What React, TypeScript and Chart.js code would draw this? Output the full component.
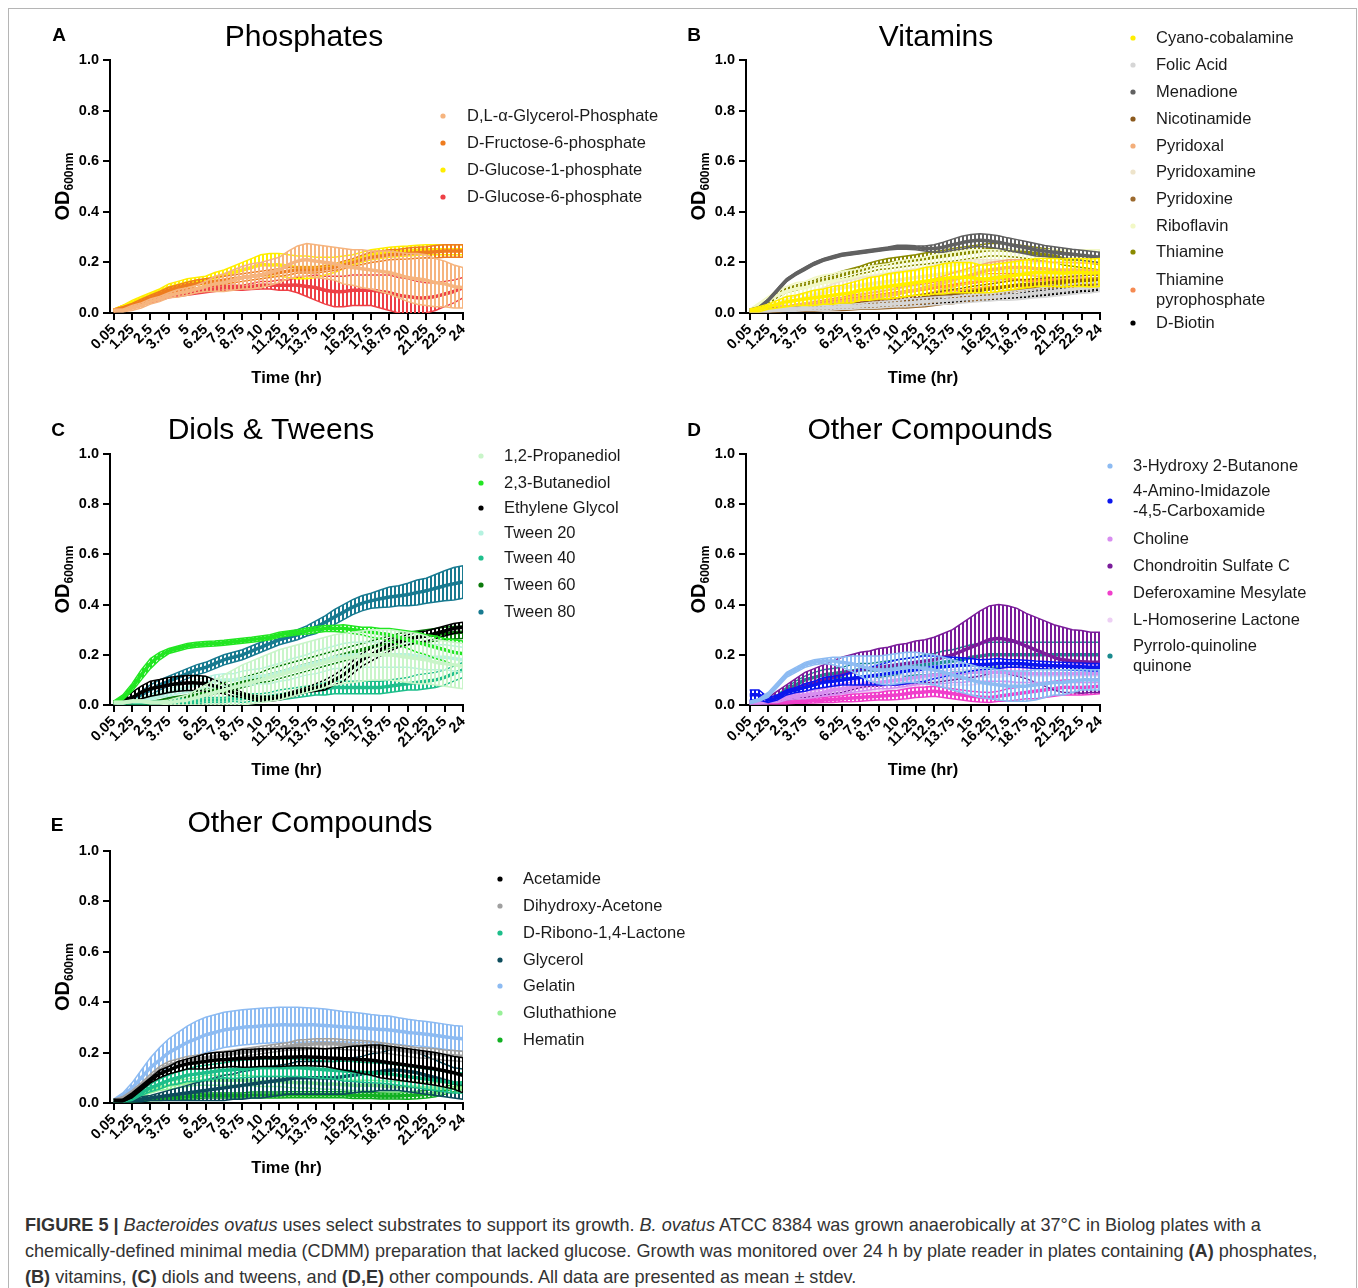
import React, { useEffect, useRef } from 'react';
import { Chart, registerables } from 'chart.js';

Chart.register(...registerables);

const FONT = "'Liberation Sans', Arial, Helvetica, sans-serif";
Chart.defaults.font.family = FONT;
Chart.defaults.color = '#000';

// ---------- shared axis data ----------
const TIME_LABELS = ['0.05', '1.25', '2.5', '3.75', '5', '6.25', '7.5', '8.75', '10', '11.25', '12.5', '13.75', '15', '16.25', '17.5', '18.75', '20', '21.25', '22.5', '24'];
const SAMPLES_PER_TICK = 2; // readings are taken every half tick interval
const Y_TITLE = 'OD';
const Y_TITLE_SUB = '600nm';
const X_TITLE = 'Time (hr)';

// ---------- Panel A: Phosphates ----------
const A_GLYCEROL_P = [0.01, 0.01, 0.02, 0.03, 0.045, 0.055, 0.07, 0.078, 0.085, 0.095, 0.105, 0.115, 0.12,
  0.13, 0.14, 0.145, 0.15, 0.16, 0.17, 0.19, 0.205, 0.21, 0.205, 0.2, 0.195, 0.185,
  0.18, 0.175, 0.17, 0.165, 0.16, 0.15, 0.14, 0.135, 0.13, 0.12, 0.115, 0.105, 0.1];
const A_GLYCEROL_P_SD = [0.005, 0.005, 0.01, 0.01, 0.01, 0.01, 0.01, 0.015, 0.015, 0.015, 0.02, 0.03, 0.035,
  0.04, 0.045, 0.05, 0.05, 0.05, 0.05, 0.055, 0.06, 0.065, 0.065, 0.065, 0.065, 0.07,
  0.07, 0.075, 0.075, 0.08, 0.085, 0.09, 0.095, 0.1, 0.1, 0.095, 0.09, 0.085, 0.08];
const A_FRUCTOSE_6P = [0.01, 0.02, 0.03, 0.045, 0.06, 0.075, 0.09, 0.1, 0.11, 0.115, 0.12, 0.125, 0.13,
  0.135, 0.14, 0.145, 0.15, 0.155, 0.16, 0.165, 0.17, 0.17, 0.17, 0.175, 0.18, 0.19,
  0.2, 0.21, 0.22, 0.225, 0.23, 0.232, 0.235, 0.238, 0.24, 0.242, 0.245, 0.245, 0.245];
const A_FRUCTOSE_6P_SD = [0.005, 0.005, 0.008, 0.01, 0.01, 0.01, 0.012, 0.012, 0.012, 0.015, 0.015, 0.015, 0.015,
  0.015, 0.015, 0.015, 0.015, 0.015, 0.015, 0.015, 0.012, 0.012, 0.012, 0.012, 0.012, 0.015,
  0.015, 0.018, 0.02, 0.02, 0.02, 0.02, 0.022, 0.022, 0.022, 0.025, 0.025, 0.025, 0.025];
const A_GLUCOSE_1P = [0.01, 0.025, 0.04, 0.055, 0.07, 0.085, 0.1, 0.11, 0.12, 0.125, 0.13, 0.14, 0.15,
  0.16, 0.17, 0.18, 0.19, 0.19, 0.19, 0.185, 0.18, 0.18, 0.18, 0.185, 0.19, 0.2,
  0.21, 0.22, 0.23, 0.235, 0.24, 0.243, 0.245, 0.248, 0.25, 0.25, 0.25, 0.25, 0.25];
const A_GLUCOSE_1P_SD = [0.005, 0.005, 0.01, 0.01, 0.01, 0.01, 0.015, 0.015, 0.015, 0.015, 0.015, 0.02, 0.02,
  0.025, 0.03, 0.035, 0.04, 0.045, 0.045, 0.045, 0.045, 0.045, 0.04, 0.035, 0.03, 0.025,
  0.02, 0.02, 0.02, 0.02, 0.02, 0.02, 0.02, 0.02, 0.02, 0.02, 0.02, 0.02, 0.02];
const A_GLUCOSE_6P = [0.01, 0.02, 0.03, 0.04, 0.05, 0.06, 0.07, 0.075, 0.08, 0.085, 0.09, 0.095, 0.1,
  0.1, 0.1, 0.105, 0.11, 0.11, 0.11, 0.11, 0.11, 0.105, 0.1, 0.09, 0.085, 0.085,
  0.09, 0.09, 0.09, 0.085, 0.08, 0.07, 0.065, 0.06, 0.06, 0.065, 0.075, 0.085, 0.1];
const A_GLUCOSE_6P_SD = [0.005, 0.01, 0.01, 0.01, 0.01, 0.01, 0.01, 0.01, 0.01, 0.01, 0.01, 0.01, 0.01,
  0.01, 0.01, 0.012, 0.015, 0.015, 0.02, 0.02, 0.03, 0.04, 0.05, 0.055, 0.06, 0.06,
  0.06, 0.06, 0.06, 0.065, 0.07, 0.07, 0.07, 0.065, 0.06, 0.055, 0.05, 0.045, 0.04];

// ---------- Panel B: Vitamins ----------
const B_CYANO = [0.01, 0.015, 0.025, 0.035, 0.045, 0.05, 0.055, 0.06, 0.065, 0.07, 0.075, 0.08, 0.09,
  0.095, 0.1, 0.105, 0.11, 0.115, 0.12, 0.125, 0.13, 0.135, 0.14, 0.14, 0.14, 0.135,
  0.135, 0.14, 0.145, 0.15, 0.155, 0.16, 0.16, 0.16, 0.158, 0.16, 0.16, 0.158, 0.16];
const B_CYANO_SD = [0.005, 0.01, 0.01, 0.015, 0.02, 0.02, 0.025, 0.03, 0.03, 0.035, 0.035, 0.04, 0.04,
  0.045, 0.045, 0.05, 0.05, 0.05, 0.05, 0.055, 0.055, 0.06, 0.06, 0.06, 0.06, 0.055,
  0.055, 0.055, 0.055, 0.055, 0.055, 0.055, 0.055, 0.055, 0.055, 0.055, 0.055, 0.055, 0.055];
const B_FOLIC = [0.01, 0.01, 0.01, 0.012, 0.015, 0.015, 0.018, 0.02, 0.02, 0.022, 0.025, 0.025, 0.028,
  0.03, 0.032, 0.035, 0.037, 0.04, 0.042, 0.045, 0.048, 0.05, 0.052, 0.055, 0.057, 0.06,
  0.062, 0.065, 0.068, 0.07, 0.074, 0.078, 0.082, 0.086, 0.09, 0.094, 0.098, 0.1, 0.105];
const B_FOLIC_SD = [0.005, 0.005, 0.005, 0.005, 0.008, 0.008, 0.008, 0.01, 0.01, 0.01, 0.01, 0.01, 0.01,
  0.012, 0.012, 0.012, 0.012, 0.015, 0.015, 0.015, 0.015, 0.015, 0.015, 0.015, 0.015, 0.015,
  0.015, 0.015, 0.018, 0.018, 0.018, 0.018, 0.02, 0.02, 0.02, 0.02, 0.02, 0.02, 0.02];
const B_MENADIONE = [0.01, 0.02, 0.05, 0.09, 0.13, 0.155, 0.175, 0.195, 0.21, 0.22, 0.23, 0.235, 0.24,
  0.245, 0.25, 0.255, 0.26, 0.26, 0.258, 0.255, 0.255, 0.26, 0.27, 0.278, 0.285, 0.288,
  0.285, 0.28, 0.272, 0.265, 0.258, 0.25, 0.245, 0.24, 0.235, 0.232, 0.228, 0.224, 0.22];
const B_MENADIONE_SD = [0.005, 0.005, 0.005, 0.006, 0.006, 0.006, 0.006, 0.006, 0.006, 0.006, 0.006, 0.006, 0.006,
  0.006, 0.006, 0.006, 0.008, 0.008, 0.008, 0.01, 0.015, 0.02, 0.022, 0.025, 0.025, 0.025,
  0.025, 0.025, 0.025, 0.025, 0.025, 0.025, 0.022, 0.022, 0.022, 0.02, 0.02, 0.02, 0.02];
const B_NICOTINAMIDE = [0.01, 0.01, 0.012, 0.015, 0.015, 0.018, 0.02, 0.02, 0.022, 0.025, 0.027, 0.03, 0.032,
  0.035, 0.04, 0.042, 0.045, 0.05, 0.055, 0.06, 0.065, 0.07, 0.075, 0.08, 0.085, 0.09,
  0.095, 0.1, 0.105, 0.11, 0.112, 0.115, 0.118, 0.12, 0.122, 0.125, 0.127, 0.13, 0.13];
const B_NICOTINAMIDE_SD = [0.005, 0.005, 0.005, 0.005, 0.005, 0.005, 0.008, 0.008, 0.008, 0.01, 0.01, 0.01, 0.01,
  0.012, 0.012, 0.012, 0.015, 0.015, 0.015, 0.015, 0.015, 0.018, 0.018, 0.018, 0.02, 0.02,
  0.02, 0.02, 0.02, 0.02, 0.02, 0.02, 0.02, 0.02, 0.02, 0.02, 0.02, 0.02, 0.02];
const B_PYRIDOXAL = [0.01, 0.01, 0.015, 0.02, 0.02, 0.025, 0.03, 0.03, 0.035, 0.04, 0.045, 0.05, 0.055,
  0.06, 0.065, 0.07, 0.075, 0.085, 0.09, 0.1, 0.11, 0.12, 0.13, 0.14, 0.15, 0.16,
  0.17, 0.175, 0.18, 0.18, 0.18, 0.175, 0.175, 0.17, 0.17, 0.17, 0.168, 0.168, 0.165];
const B_PYRIDOXAL_SD = [0.005, 0.005, 0.005, 0.008, 0.008, 0.01, 0.01, 0.01, 0.012, 0.012, 0.015, 0.015, 0.015,
  0.018, 0.018, 0.02, 0.02, 0.022, 0.022, 0.025, 0.025, 0.025, 0.028, 0.028, 0.03, 0.03,
  0.03, 0.03, 0.03, 0.03, 0.03, 0.03, 0.03, 0.03, 0.03, 0.03, 0.03, 0.03, 0.03];
const B_PYRIDOXAMINE = [0.01, 0.015, 0.02, 0.03, 0.04, 0.05, 0.06, 0.07, 0.08, 0.09, 0.1, 0.105, 0.11,
  0.115, 0.12, 0.125, 0.13, 0.135, 0.14, 0.145, 0.15, 0.155, 0.16, 0.165, 0.17, 0.17,
  0.17, 0.17, 0.165, 0.165, 0.16, 0.16, 0.16, 0.16, 0.16, 0.16, 0.16, 0.16, 0.16];
const B_PYRIDOXAMINE_SD = [0.005, 0.005, 0.01, 0.01, 0.015, 0.015, 0.02, 0.02, 0.02, 0.025, 0.025, 0.025, 0.03,
  0.03, 0.03, 0.03, 0.035, 0.035, 0.035, 0.035, 0.04, 0.04, 0.04, 0.04, 0.04, 0.04,
  0.04, 0.04, 0.04, 0.04, 0.04, 0.04, 0.04, 0.04, 0.04, 0.04, 0.04, 0.04, 0.04];
const B_PYRIDOXINE = [0.01, 0.01, 0.01, 0.01, 0.012, 0.012, 0.015, 0.015, 0.018, 0.02, 0.02, 0.022, 0.025,
  0.025, 0.028, 0.03, 0.032, 0.035, 0.038, 0.04, 0.045, 0.05, 0.055, 0.06, 0.065, 0.07,
  0.075, 0.08, 0.085, 0.09, 0.095, 0.1, 0.1, 0.105, 0.11, 0.11, 0.115, 0.118, 0.12];
const B_PYRIDOXINE_SD = [0.005, 0.005, 0.005, 0.005, 0.005, 0.005, 0.008, 0.008, 0.008, 0.01, 0.01, 0.01, 0.01,
  0.01, 0.012, 0.012, 0.012, 0.015, 0.015, 0.015, 0.015, 0.015, 0.018, 0.018, 0.018, 0.02,
  0.02, 0.02, 0.02, 0.02, 0.02, 0.02, 0.02, 0.02, 0.02, 0.02, 0.02, 0.02, 0.02];
const B_RIBOFLAVIN = [0.01, 0.03, 0.05, 0.07, 0.085, 0.095, 0.1, 0.11, 0.12, 0.125, 0.13, 0.135, 0.14,
  0.145, 0.15, 0.155, 0.16, 0.165, 0.17, 0.175, 0.18, 0.185, 0.19, 0.195, 0.2, 0.2,
  0.2, 0.2, 0.2, 0.2, 0.2, 0.2, 0.2, 0.2, 0.2, 0.2, 0.2, 0.2, 0.2];
const B_RIBOFLAVIN_SD = [0.005, 0.01, 0.015, 0.02, 0.02, 0.025, 0.025, 0.03, 0.03, 0.03, 0.035, 0.035, 0.035,
  0.04, 0.04, 0.04, 0.045, 0.045, 0.045, 0.045, 0.05, 0.05, 0.05, 0.05, 0.05, 0.05,
  0.05, 0.05, 0.05, 0.05, 0.05, 0.05, 0.05, 0.05, 0.05, 0.05, 0.05, 0.05, 0.05];
const B_THIAMINE = [0.01, 0.02, 0.04, 0.07, 0.09, 0.1, 0.11, 0.12, 0.13, 0.14, 0.15, 0.16, 0.17,
  0.18, 0.19, 0.195, 0.2, 0.205, 0.21, 0.215, 0.22, 0.225, 0.23, 0.235, 0.24, 0.245,
  0.25, 0.25, 0.248, 0.245, 0.24, 0.235, 0.23, 0.225, 0.215, 0.21, 0.205, 0.2, 0.195];
const B_THIAMINE_SD = [0.005, 0.005, 0.005, 0.008, 0.008, 0.01, 0.01, 0.01, 0.012, 0.012, 0.015, 0.015, 0.015,
  0.018, 0.018, 0.02, 0.02, 0.02, 0.02, 0.022, 0.022, 0.022, 0.025, 0.025, 0.025, 0.025,
  0.025, 0.025, 0.025, 0.025, 0.025, 0.025, 0.025, 0.025, 0.025, 0.025, 0.025, 0.025, 0.025];
const B_THIAMINE_PP = [0.01, 0.01, 0.015, 0.02, 0.02, 0.025, 0.03, 0.035, 0.04, 0.045, 0.05, 0.055, 0.06,
  0.065, 0.07, 0.075, 0.08, 0.085, 0.09, 0.095, 0.1, 0.105, 0.11, 0.115, 0.12, 0.125,
  0.13, 0.13, 0.132, 0.13, 0.128, 0.13, 0.132, 0.13, 0.13, 0.128, 0.13, 0.13, 0.13];
const B_THIAMINE_PP_SD = [0.005, 0.005, 0.005, 0.005, 0.008, 0.008, 0.01, 0.01, 0.01, 0.012, 0.012, 0.015, 0.015,
  0.015, 0.018, 0.018, 0.02, 0.02, 0.02, 0.02, 0.022, 0.022, 0.022, 0.025, 0.025, 0.025,
  0.025, 0.025, 0.025, 0.025, 0.025, 0.025, 0.025, 0.025, 0.025, 0.025, 0.025, 0.025, 0.025];
const B_BIOTIN = [0.01, 0.01, 0.01, 0.012, 0.014, 0.015, 0.017, 0.019, 0.02, 0.021, 0.024, 0.025, 0.027,
  0.029, 0.031, 0.034, 0.036, 0.038, 0.04, 0.043, 0.046, 0.048, 0.05, 0.053, 0.055, 0.058,
  0.06, 0.063, 0.066, 0.068, 0.072, 0.076, 0.079, 0.083, 0.087, 0.09, 0.094, 0.096, 0.1];
const B_BIOTIN_SD = [0.005, 0.005, 0.005, 0.005, 0.005, 0.005, 0.005, 0.005, 0.005, 0.005, 0.005, 0.005, 0.005,
  0.005, 0.005, 0.005, 0.005, 0.005, 0.005, 0.008, 0.008, 0.008, 0.008, 0.008, 0.008, 0.008,
  0.008, 0.008, 0.008, 0.008, 0.01, 0.01, 0.01, 0.01, 0.01, 0.01, 0.01, 0.01, 0.01];

// ---------- Panel C: Diols & Tweens ----------
const C_PROPANEDIOL = [0.01, 0.01, 0.015, 0.015, 0.01, 0.01, 0.01, 0.015, 0.02, 0.03, 0.04, 0.05, 0.06,
  0.07, 0.08, 0.09, 0.1, 0.11, 0.12, 0.13, 0.14, 0.15, 0.16, 0.17, 0.18, 0.185,
  0.19, 0.195, 0.2, 0.2, 0.2, 0.195, 0.19, 0.185, 0.18, 0.17, 0.165, 0.16, 0.155];
const C_PROPANEDIOL_SD = [0.005, 0.005, 0.005, 0.005, 0.005, 0.005, 0.01, 0.015, 0.02, 0.03, 0.04, 0.05, 0.06,
  0.07, 0.08, 0.085, 0.09, 0.095, 0.1, 0.1, 0.1, 0.1, 0.1, 0.1, 0.1, 0.1,
  0.1, 0.1, 0.1, 0.1, 0.1, 0.1, 0.1, 0.1, 0.095, 0.09, 0.09, 0.09, 0.09];
const C_BUTANEDIOL = [0.01, 0.03, 0.07, 0.12, 0.165, 0.195, 0.215, 0.225, 0.235, 0.24, 0.243, 0.245, 0.248,
  0.252, 0.256, 0.26, 0.265, 0.27, 0.28, 0.285, 0.29, 0.295, 0.3, 0.305, 0.305, 0.305,
  0.3, 0.295, 0.29, 0.285, 0.28, 0.27, 0.26, 0.25, 0.24, 0.23, 0.22, 0.21, 0.205];
const C_BUTANEDIOL_SD = [0.005, 0.01, 0.015, 0.02, 0.02, 0.015, 0.01, 0.01, 0.01, 0.01, 0.01, 0.01, 0.01,
  0.01, 0.01, 0.01, 0.01, 0.01, 0.01, 0.01, 0.01, 0.012, 0.012, 0.012, 0.012, 0.015,
  0.015, 0.015, 0.02, 0.02, 0.025, 0.03, 0.035, 0.04, 0.04, 0.045, 0.045, 0.05, 0.05];
const C_ETHYLENE_GLYCOL = [0.01, 0.02, 0.03, 0.05, 0.065, 0.072, 0.08, 0.085, 0.088, 0.088, 0.085, 0.075, 0.065,
  0.05, 0.04, 0.03, 0.025, 0.025, 0.03, 0.04, 0.05, 0.06, 0.07, 0.08, 0.1, 0.12,
  0.15, 0.18, 0.2, 0.22, 0.24, 0.25, 0.26, 0.27, 0.275, 0.285, 0.295, 0.305, 0.31];
const C_ETHYLENE_GLYCOL_SD = [0.005, 0.01, 0.02, 0.025, 0.03, 0.03, 0.03, 0.03, 0.03, 0.03, 0.03, 0.025, 0.02,
  0.015, 0.01, 0.01, 0.01, 0.01, 0.01, 0.01, 0.01, 0.01, 0.015, 0.02, 0.02, 0.025,
  0.025, 0.025, 0.025, 0.025, 0.025, 0.02, 0.02, 0.02, 0.02, 0.02, 0.02, 0.02, 0.02];
const C_TWEEN20 = [0.01, 0.01, 0.015, 0.02, 0.03, 0.04, 0.05, 0.06, 0.07, 0.08, 0.09, 0.095, 0.1,
  0.1, 0.105, 0.11, 0.115, 0.12, 0.13, 0.14, 0.15, 0.16, 0.17, 0.18, 0.19, 0.195,
  0.2, 0.2, 0.2, 0.2, 0.2, 0.2, 0.2, 0.195, 0.19, 0.19, 0.19, 0.185, 0.18];
const C_TWEEN20_SD = [0.005, 0.005, 0.005, 0.01, 0.01, 0.01, 0.015, 0.015, 0.02, 0.02, 0.02, 0.025, 0.025,
  0.025, 0.03, 0.03, 0.03, 0.035, 0.035, 0.04, 0.04, 0.04, 0.045, 0.045, 0.045, 0.05,
  0.05, 0.05, 0.05, 0.05, 0.05, 0.05, 0.05, 0.05, 0.05, 0.05, 0.05, 0.05, 0.05];
const C_TWEEN40 = [0.01, 0.01, 0.01, 0.01, 0.01, 0.01, 0.01, 0.015, 0.015, 0.015, 0.02, 0.02, 0.02,
  0.025, 0.025, 0.03, 0.03, 0.035, 0.04, 0.045, 0.05, 0.055, 0.06, 0.065, 0.07, 0.07,
  0.07, 0.07, 0.07, 0.07, 0.075, 0.08, 0.085, 0.09, 0.095, 0.1, 0.11, 0.125, 0.14];
const C_TWEEN40_SD = [0.005, 0.005, 0.005, 0.005, 0.005, 0.005, 0.005, 0.01, 0.01, 0.01, 0.01, 0.01, 0.01,
  0.01, 0.015, 0.015, 0.015, 0.015, 0.02, 0.02, 0.02, 0.02, 0.02, 0.025, 0.025, 0.025,
  0.025, 0.025, 0.025, 0.025, 0.025, 0.025, 0.025, 0.03, 0.03, 0.03, 0.03, 0.03, 0.03];
const C_TWEEN60 = [0.01, 0.01, 0.01, 0.01, 0.01, 0.015, 0.02, 0.025, 0.03, 0.04, 0.05, 0.06, 0.07,
  0.08, 0.09, 0.1, 0.11, 0.12, 0.13, 0.14, 0.15, 0.16, 0.17, 0.18, 0.19, 0.2,
  0.21, 0.22, 0.23, 0.24, 0.25, 0.26, 0.265, 0.27, 0.275, 0.28, 0.285, 0.288, 0.29];
const C_TWEEN60_SD = [0.005, 0.005, 0.005, 0.005, 0.005, 0.005, 0.01, 0.01, 0.01, 0.015, 0.015, 0.015, 0.02,
  0.02, 0.02, 0.02, 0.02, 0.025, 0.025, 0.025, 0.025, 0.025, 0.025, 0.025, 0.025, 0.025,
  0.025, 0.025, 0.025, 0.025, 0.025, 0.025, 0.025, 0.025, 0.025, 0.025, 0.025, 0.025, 0.025];
const C_TWEEN80 = [0.01, 0.01, 0.02, 0.04, 0.06, 0.08, 0.095, 0.11, 0.125, 0.14, 0.15, 0.165, 0.18,
  0.19, 0.2, 0.215, 0.23, 0.245, 0.26, 0.27, 0.28, 0.295, 0.31, 0.33, 0.35, 0.37,
  0.39, 0.405, 0.415, 0.423, 0.43, 0.435, 0.44, 0.448, 0.455, 0.465, 0.475, 0.483, 0.49];
const C_TWEEN80_SD = [0.005, 0.005, 0.01, 0.015, 0.02, 0.02, 0.02, 0.02, 0.02, 0.02, 0.02, 0.02, 0.02,
  0.02, 0.02, 0.02, 0.02, 0.02, 0.02, 0.02, 0.02, 0.02, 0.025, 0.025, 0.03, 0.03,
  0.03, 0.03, 0.03, 0.035, 0.04, 0.04, 0.045, 0.05, 0.05, 0.055, 0.06, 0.065, 0.065];

// ---------- Panel D: Other Compounds ----------
const D_HYDROXY_BUTANONE = [0.01, 0.02, 0.04, 0.08, 0.12, 0.14, 0.16, 0.17, 0.175, 0.175, 0.17, 0.165, 0.155,
  0.145, 0.14, 0.14, 0.145, 0.15, 0.15, 0.145, 0.14, 0.13, 0.12, 0.11, 0.1, 0.09,
  0.085, 0.08, 0.075, 0.075, 0.075, 0.08, 0.085, 0.09, 0.09, 0.095, 0.1, 0.1, 0.1];
const D_HYDROXY_BUTANONE_SD = [0.005, 0.005, 0.01, 0.01, 0.01, 0.01, 0.01, 0.01, 0.01, 0.015, 0.02, 0.03, 0.04,
  0.05, 0.055, 0.06, 0.06, 0.06, 0.06, 0.06, 0.06, 0.06, 0.06, 0.06, 0.06, 0.06,
  0.06, 0.06, 0.06, 0.06, 0.06, 0.06, 0.055, 0.05, 0.05, 0.045, 0.04, 0.04, 0.04];
const D_AMINO_IMIDAZOLE = [0.04, 0.04, 0.02, 0.03, 0.05, 0.06, 0.07, 0.08, 0.09, 0.095, 0.1, 0.105, 0.11,
  0.115, 0.12, 0.125, 0.13, 0.135, 0.14, 0.145, 0.15, 0.152, 0.155, 0.158, 0.16, 0.16,
  0.162, 0.165, 0.165, 0.165, 0.163, 0.16, 0.158, 0.156, 0.155, 0.153, 0.152, 0.15, 0.15];
const D_AMINO_IMIDAZOLE_SD = [0.02, 0.02, 0.01, 0.01, 0.01, 0.01, 0.015, 0.015, 0.02, 0.02, 0.02, 0.025, 0.03,
  0.035, 0.04, 0.045, 0.05, 0.05, 0.05, 0.05, 0.045, 0.04, 0.035, 0.03, 0.025, 0.02,
  0.02, 0.02, 0.015, 0.015, 0.015, 0.015, 0.015, 0.015, 0.015, 0.015, 0.015, 0.015, 0.015];
const D_CHOLINE = [0.01, 0.01, 0.015, 0.02, 0.03, 0.035, 0.04, 0.045, 0.05, 0.06, 0.065, 0.07, 0.08,
  0.085, 0.09, 0.095, 0.1, 0.105, 0.11, 0.115, 0.12, 0.12, 0.125, 0.125, 0.13, 0.13,
  0.13, 0.13, 0.13, 0.125, 0.125, 0.125, 0.125, 0.125, 0.125, 0.125, 0.125, 0.125, 0.125];
const D_CHOLINE_SD = [0.005, 0.005, 0.005, 0.01, 0.01, 0.01, 0.015, 0.015, 0.015, 0.02, 0.02, 0.02, 0.025,
  0.025, 0.025, 0.03, 0.03, 0.03, 0.03, 0.03, 0.035, 0.035, 0.035, 0.035, 0.035, 0.035,
  0.035, 0.035, 0.035, 0.035, 0.035, 0.035, 0.035, 0.035, 0.035, 0.035, 0.035, 0.035, 0.035];
const D_CHONDROITIN = [0.01, 0.01, 0.02, 0.035, 0.05, 0.065, 0.08, 0.09, 0.1, 0.11, 0.12, 0.13, 0.14,
  0.145, 0.15, 0.155, 0.16, 0.165, 0.17, 0.175, 0.18, 0.19, 0.2, 0.215, 0.23, 0.245,
  0.26, 0.265, 0.26, 0.25, 0.235, 0.22, 0.205, 0.19, 0.18, 0.175, 0.172, 0.17, 0.17];
const D_CHONDROITIN_SD = [0.005, 0.005, 0.01, 0.02, 0.03, 0.04, 0.05, 0.055, 0.06, 0.065, 0.07, 0.07, 0.07,
  0.07, 0.075, 0.075, 0.08, 0.08, 0.085, 0.085, 0.09, 0.095, 0.1, 0.11, 0.12, 0.13,
  0.135, 0.135, 0.135, 0.135, 0.13, 0.13, 0.13, 0.13, 0.13, 0.125, 0.125, 0.12, 0.12];
const D_DEFEROXAMINE = [0.01, 0.01, 0.01, 0.01, 0.01, 0.012, 0.015, 0.018, 0.02, 0.022, 0.025, 0.028, 0.03,
  0.033, 0.035, 0.038, 0.04, 0.045, 0.05, 0.052, 0.055, 0.05, 0.045, 0.04, 0.035, 0.032,
  0.03, 0.035, 0.04, 0.045, 0.05, 0.055, 0.06, 0.065, 0.07, 0.07, 0.07, 0.072, 0.075];
const D_DEFEROXAMINE_SD = [0.005, 0.005, 0.005, 0.005, 0.005, 0.005, 0.008, 0.01, 0.01, 0.012, 0.012, 0.015, 0.015,
  0.015, 0.015, 0.018, 0.018, 0.02, 0.02, 0.02, 0.02, 0.02, 0.02, 0.02, 0.02, 0.02,
  0.02, 0.02, 0.025, 0.025, 0.025, 0.03, 0.03, 0.03, 0.03, 0.03, 0.03, 0.03, 0.03];
const D_HOMOSERINE = [0.01, 0.01, 0.015, 0.02, 0.025, 0.03, 0.035, 0.04, 0.05, 0.055, 0.06, 0.065, 0.07,
  0.075, 0.08, 0.085, 0.09, 0.095, 0.1, 0.1, 0.105, 0.105, 0.11, 0.11, 0.11, 0.115,
  0.115, 0.115, 0.12, 0.12, 0.12, 0.12, 0.12, 0.12, 0.12, 0.12, 0.12, 0.12, 0.12];
const D_HOMOSERINE_SD = [0.005, 0.005, 0.005, 0.01, 0.01, 0.01, 0.01, 0.015, 0.015, 0.015, 0.02, 0.02, 0.02,
  0.02, 0.025, 0.025, 0.025, 0.025, 0.03, 0.03, 0.03, 0.03, 0.03, 0.03, 0.03, 0.03,
  0.03, 0.03, 0.03, 0.03, 0.03, 0.03, 0.03, 0.03, 0.03, 0.03, 0.03, 0.03, 0.03];
const D_PQQ = [0.0, 0.005, 0.01, 0.03, 0.06, 0.08, 0.1, 0.11, 0.12, 0.125, 0.13, 0.135, 0.14,
  0.14, 0.14, 0.145, 0.15, 0.15, 0.155, 0.16, 0.165, 0.17, 0.175, 0.18, 0.19, 0.195,
  0.2, 0.2, 0.2, 0.2, 0.2, 0.2, 0.2, 0.2, 0.2, 0.2, 0.2, 0.2, 0.2];
const D_PQQ_SD = [0.005, 0.005, 0.005, 0.01, 0.01, 0.015, 0.015, 0.02, 0.02, 0.02, 0.02, 0.025, 0.025,
  0.025, 0.03, 0.03, 0.03, 0.035, 0.035, 0.04, 0.04, 0.045, 0.045, 0.05, 0.05, 0.05,
  0.05, 0.05, 0.05, 0.05, 0.05, 0.05, 0.05, 0.05, 0.05, 0.05, 0.05, 0.05, 0.05];

// ---------- Panel E: Other Compounds ----------
const E_ACETAMIDE = [0.01, 0.01, 0.03, 0.06, 0.09, 0.115, 0.13, 0.145, 0.155, 0.16, 0.165, 0.17, 0.172,
  0.175, 0.177, 0.178, 0.18, 0.18, 0.18, 0.182, 0.183, 0.183, 0.182, 0.18, 0.178, 0.176,
  0.175, 0.172, 0.17, 0.165, 0.16, 0.155, 0.15, 0.145, 0.14, 0.135, 0.128, 0.12, 0.11];
const E_ACETAMIDE_SD = [0.005, 0.005, 0.01, 0.01, 0.01, 0.015, 0.015, 0.02, 0.02, 0.025, 0.03, 0.03, 0.03,
  0.03, 0.035, 0.035, 0.035, 0.035, 0.035, 0.035, 0.035, 0.035, 0.035, 0.035, 0.04, 0.045,
  0.05, 0.055, 0.06, 0.065, 0.065, 0.065, 0.065, 0.065, 0.065, 0.065, 0.065, 0.065, 0.07];
const E_DIHYDROXY_ACETONE = [0.01, 0.02, 0.04, 0.07, 0.1, 0.13, 0.15, 0.16, 0.17, 0.175, 0.18, 0.185, 0.19,
  0.195, 0.2, 0.205, 0.21, 0.215, 0.22, 0.225, 0.23, 0.232, 0.235, 0.235, 0.235, 0.232,
  0.23, 0.228, 0.225, 0.22, 0.215, 0.21, 0.205, 0.2, 0.198, 0.195, 0.19, 0.188, 0.185];
const E_DIHYDROXY_ACETONE_SD = [0.005, 0.005, 0.01, 0.01, 0.015, 0.015, 0.015, 0.015, 0.015, 0.015, 0.015, 0.015, 0.015,
  0.015, 0.015, 0.015, 0.015, 0.015, 0.015, 0.015, 0.02, 0.02, 0.02, 0.02, 0.02, 0.02,
  0.02, 0.02, 0.02, 0.02, 0.02, 0.02, 0.02, 0.02, 0.02, 0.02, 0.02, 0.02, 0.02];
const E_RIBONO_LACTONE = [0.01, 0.01, 0.02, 0.04, 0.06, 0.075, 0.09, 0.1, 0.11, 0.115, 0.12, 0.125, 0.13,
  0.132, 0.135, 0.137, 0.14, 0.14, 0.14, 0.14, 0.14, 0.138, 0.135, 0.132, 0.13, 0.127,
  0.125, 0.122, 0.12, 0.118, 0.115, 0.11, 0.105, 0.1, 0.095, 0.09, 0.085, 0.08, 0.08];
const E_RIBONO_LACTONE_SD = [0.005, 0.005, 0.01, 0.01, 0.015, 0.02, 0.02, 0.025, 0.025, 0.03, 0.03, 0.03, 0.03,
  0.035, 0.035, 0.035, 0.035, 0.035, 0.035, 0.035, 0.035, 0.035, 0.035, 0.035, 0.035, 0.04,
  0.04, 0.04, 0.04, 0.04, 0.04, 0.04, 0.04, 0.04, 0.04, 0.04, 0.04, 0.04, 0.04];
const E_GLYCEROL = [0.01, 0.01, 0.01, 0.015, 0.02, 0.025, 0.03, 0.035, 0.04, 0.045, 0.05, 0.055, 0.06,
  0.065, 0.07, 0.075, 0.08, 0.085, 0.09, 0.095, 0.1, 0.1, 0.1, 0.1, 0.1, 0.105,
  0.11, 0.115, 0.12, 0.125, 0.13, 0.13, 0.125, 0.12, 0.11, 0.1, 0.09, 0.08, 0.075];
const E_GLYCEROL_SD = [0.005, 0.005, 0.005, 0.01, 0.01, 0.015, 0.02, 0.025, 0.03, 0.035, 0.04, 0.045, 0.05,
  0.05, 0.055, 0.055, 0.06, 0.06, 0.06, 0.06, 0.065, 0.065, 0.065, 0.065, 0.065, 0.07,
  0.07, 0.07, 0.075, 0.075, 0.08, 0.08, 0.08, 0.08, 0.075, 0.07, 0.065, 0.06, 0.06];
const E_GELATIN = [0.01, 0.03, 0.06, 0.1, 0.14, 0.17, 0.2, 0.22, 0.24, 0.255, 0.27, 0.28, 0.29,
  0.295, 0.3, 0.303, 0.306, 0.308, 0.31, 0.31, 0.31, 0.31, 0.31, 0.308, 0.305, 0.303,
  0.3, 0.298, 0.295, 0.292, 0.29, 0.285, 0.28, 0.277, 0.273, 0.268, 0.263, 0.258, 0.255];
const E_GELATIN_SD = [0.005, 0.01, 0.02, 0.03, 0.04, 0.05, 0.055, 0.06, 0.065, 0.07, 0.07, 0.07, 0.07,
  0.07, 0.07, 0.07, 0.07, 0.07, 0.07, 0.07, 0.07, 0.068, 0.066, 0.065, 0.063, 0.06,
  0.06, 0.058, 0.056, 0.055, 0.055, 0.053, 0.052, 0.05, 0.05, 0.05, 0.05, 0.05, 0.05];
const E_GLUTHATHIONE = [0.01, 0.01, 0.02, 0.035, 0.05, 0.06, 0.07, 0.075, 0.08, 0.085, 0.09, 0.09, 0.09,
  0.09, 0.09, 0.088, 0.085, 0.085, 0.085, 0.082, 0.08, 0.08, 0.078, 0.075, 0.075, 0.072,
  0.07, 0.07, 0.07, 0.068, 0.065, 0.065, 0.065, 0.063, 0.06, 0.06, 0.06, 0.06, 0.06];
const E_GLUTHATHIONE_SD = [0.005, 0.005, 0.005, 0.01, 0.01, 0.01, 0.015, 0.015, 0.015, 0.015, 0.02, 0.02, 0.02,
  0.02, 0.02, 0.02, 0.02, 0.02, 0.02, 0.02, 0.02, 0.02, 0.02, 0.02, 0.02, 0.02,
  0.02, 0.02, 0.02, 0.02, 0.02, 0.02, 0.02, 0.02, 0.02, 0.02, 0.02, 0.02, 0.02];
const E_HEMATIN = [0.01, 0.01, 0.01, 0.012, 0.015, 0.018, 0.02, 0.022, 0.025, 0.027, 0.03, 0.03, 0.03,
  0.03, 0.03, 0.032, 0.032, 0.032, 0.032, 0.033, 0.033, 0.033, 0.033, 0.033, 0.033, 0.033,
  0.03, 0.03, 0.03, 0.028, 0.028, 0.028, 0.03, 0.032, 0.035, 0.04, 0.05, 0.06, 0.07];
const E_HEMATIN_SD = [0.005, 0.005, 0.005, 0.005, 0.005, 0.008, 0.008, 0.01, 0.01, 0.01, 0.01, 0.01, 0.01,
  0.01, 0.01, 0.012, 0.012, 0.012, 0.012, 0.012, 0.012, 0.012, 0.012, 0.012, 0.012, 0.012,
  0.012, 0.012, 0.012, 0.012, 0.012, 0.012, 0.015, 0.015, 0.015, 0.015, 0.015, 0.015, 0.015];

// ---------- series (name, colour, mean, sd) ----------
type Series = { name: string; color: string; mean: number[]; sd: number[] };

const A_SERIES: Series[] = [
  { name: 'D,L-α-Glycerol-Phosphate', color: '#F6B47E', mean: A_GLYCEROL_P, sd: A_GLYCEROL_P_SD },
  { name: 'D-Fructose-6-phosphate', color: '#EE7C1E', mean: A_FRUCTOSE_6P, sd: A_FRUCTOSE_6P_SD },
  { name: 'D-Glucose-1-phosphate', color: '#FFEE00', mean: A_GLUCOSE_1P, sd: A_GLUCOSE_1P_SD },
  { name: 'D-Glucose-6-phosphate', color: '#EE4046', mean: A_GLUCOSE_6P, sd: A_GLUCOSE_6P_SD },
];
const B_SERIES: Series[] = [
  { name: 'Cyano-cobalamine', color: '#FFEE00', mean: B_CYANO, sd: B_CYANO_SD },
  { name: 'Folic Acid', color: '#D6D6D6', mean: B_FOLIC, sd: B_FOLIC_SD },
  { name: 'Menadione', color: '#616161', mean: B_MENADIONE, sd: B_MENADIONE_SD },
  { name: 'Nicotinamide', color: '#8C5A1E', mean: B_NICOTINAMIDE, sd: B_NICOTINAMIDE_SD },
  { name: 'Pyridoxal', color: '#F3AE7A', mean: B_PYRIDOXAL, sd: B_PYRIDOXAL_SD },
  { name: 'Pyridoxamine', color: '#EEE4CB', mean: B_PYRIDOXAMINE, sd: B_PYRIDOXAMINE_SD },
  { name: 'Pyridoxine', color: '#9C6A2E', mean: B_PYRIDOXINE, sd: B_PYRIDOXINE_SD },
  { name: 'Riboflavin', color: '#F2F8C6', mean: B_RIBOFLAVIN, sd: B_RIBOFLAVIN_SD },
  { name: 'Thiamine', color: '#8A8A00', mean: B_THIAMINE, sd: B_THIAMINE_SD },
  { name: 'Thiamine\npyrophosphate', color: '#F58A52', mean: B_THIAMINE_PP, sd: B_THIAMINE_PP_SD },
  { name: 'D-Biotin', color: '#000000', mean: B_BIOTIN, sd: B_BIOTIN_SD },
];
const C_SERIES: Series[] = [
  { name: '1,2-Propanediol', color: '#C9F5C9', mean: C_PROPANEDIOL, sd: C_PROPANEDIOL_SD },
  { name: '2,3-Butanediol', color: '#22E622', mean: C_BUTANEDIOL, sd: C_BUTANEDIOL_SD },
  { name: 'Ethylene Glycol', color: '#000000', mean: C_ETHYLENE_GLYCOL, sd: C_ETHYLENE_GLYCOL_SD },
  { name: 'Tween 20', color: '#B5F2E0', mean: C_TWEEN20, sd: C_TWEEN20_SD },
  { name: 'Tween 40', color: '#1FBF8C', mean: C_TWEEN40, sd: C_TWEEN40_SD },
  { name: 'Tween 60', color: '#0B7A0B', mean: C_TWEEN60, sd: C_TWEEN60_SD },
  { name: 'Tween 80', color: '#187A90', mean: C_TWEEN80, sd: C_TWEEN80_SD },
];
const D_SERIES: Series[] = [
  { name: '3-Hydroxy 2-Butanone', color: '#8DBBF2', mean: D_HYDROXY_BUTANONE, sd: D_HYDROXY_BUTANONE_SD },
  { name: '4-Amino-Imidazole\n-4,5-Carboxamide', color: '#0B16EE', mean: D_AMINO_IMIDAZOLE, sd: D_AMINO_IMIDAZOLE_SD },
  { name: 'Choline', color: '#D88DF0', mean: D_CHOLINE, sd: D_CHOLINE_SD },
  { name: 'Chondroitin Sulfate C', color: '#7A1C9A', mean: D_CHONDROITIN, sd: D_CHONDROITIN_SD },
  { name: 'Deferoxamine Mesylate', color: '#F03FCB', mean: D_DEFEROXAMINE, sd: D_DEFEROXAMINE_SD },
  { name: 'L-Homoserine Lactone', color: '#EDCFF4', mean: D_HOMOSERINE, sd: D_HOMOSERINE_SD },
  { name: 'Pyrrolo-quinoline\nquinone', color: '#1A8A8E', mean: D_PQQ, sd: D_PQQ_SD },
];
const E_SERIES: Series[] = [
  { name: 'Acetamide', color: '#000000', mean: E_ACETAMIDE, sd: E_ACETAMIDE_SD },
  { name: 'Dihydroxy-Acetone', color: '#A0A0A0', mean: E_DIHYDROXY_ACETONE, sd: E_DIHYDROXY_ACETONE_SD },
  { name: 'D-Ribono-1,4-Lactone', color: '#1DBE8A', mean: E_RIBONO_LACTONE, sd: E_RIBONO_LACTONE_SD },
  { name: 'Glycerol', color: '#0D4C5C', mean: E_GLYCEROL, sd: E_GLYCEROL_SD },
  { name: 'Gelatin', color: '#8DBBF2', mean: E_GELATIN, sd: E_GELATIN_SD },
  { name: 'Gluthathione', color: '#98F098', mean: E_GLUTHATHIONE, sd: E_GLUTHATHIONE_SD },
  { name: 'Hematin', color: '#12B022', mean: E_HEMATIN, sd: E_HEMATIN_SD },
];

// ---------- layout (page coordinates) ----------
type PanelCfg = {
  letter: string; title: string; series: Series[];
  area: { left: number; right: number; top: number; bottom: number };
  letterPos: [number, number]; titlePos: [number, number];
  dotX: number; textX: number; rows: number[][];
};

const PANELS: PanelCfg[] = [
  { letter: 'A', title: 'Phosphates', series: A_SERIES, area: { left: 110, right: 463, top: 60, bottom: 313 },
    letterPos: [59, 36], titlePos: [304, 38], dotX: 443, textX: 467, rows: [[116], [143], [170], [197]] },
  { letter: 'B', title: 'Vitamins', series: B_SERIES, area: { left: 746, right: 1100, top: 60, bottom: 313 },
    letterPos: [694, 36], titlePos: [936, 38], dotX: 1133, textX: 1156,
    rows: [[38], [65], [92], [119], [146], [172], [199], [226], [252], [280, 300], [323]] },
  { letter: 'C', title: 'Diols & Tweens', series: C_SERIES, area: { left: 110, right: 463, top: 454, bottom: 705 },
    letterPos: [58, 431], titlePos: [271, 431], dotX: 481, textX: 504,
    rows: [[456], [483], [508], [533], [558], [585], [612]] },
  { letter: 'D', title: 'Other Compounds', series: D_SERIES, area: { left: 746, right: 1100, top: 454, bottom: 705 },
    letterPos: [694, 431], titlePos: [930, 431], dotX: 1110, textX: 1133,
    rows: [[466], [491, 511], [539], [566], [593], [620], [646, 666]] },
  { letter: 'E', title: 'Other Compounds', series: E_SERIES, area: { left: 110, right: 463, top: 851, bottom: 1103 },
    letterPos: [57, 826], titlePos: [310, 824], dotX: 500, textX: 523,
    rows: [[879], [906], [933], [960], [986], [1013], [1040]] },
];

const PAD_L = 80, PAD_T = 50, PAD_R = 250, X_AXIS_H = 90, PAD_B = 5;

function stripePattern(ctx: CanvasRenderingContext2D, color: string) {
  const c = document.createElement('canvas');
  c.width = 4; c.height = 4;
  const g = c.getContext('2d')!;
  g.fillStyle = color;
  g.fillRect(0, 0, 2, 4);
  return ctx.createPattern(c, 'repeat');
}

// draws mean ± sd as dense vertical error bars (striped band with caps) under each series
const errorBandPlugin = {
  id: 'errorBand',
  beforeDatasetDraw(chart: any, args: any) {
    const ds = chart.data.datasets[args.index];
    const sd: number[] = ds.sd;
    if (!sd) return;
    const { ctx, chartArea: a, scales } = chart;
    const xs = scales.x, ys = scales.y;
    const pts = ds.data as { x: number; y: number }[];
    const up = pts.map((p, i) => [xs.getPixelForValue(p.x), ys.getPixelForValue(p.y + sd[i])]);
    const lo = pts.map((p, i) => [xs.getPixelForValue(p.x), ys.getPixelForValue(p.y - sd[i])]);
    ctx.save();
    ctx.beginPath();
    ctx.rect(a.left, a.top, a.right - a.left, a.bottom - a.top);
    ctx.clip();
    ctx.beginPath();
    up.forEach(([x, y], i) => (i ? ctx.lineTo(x, y) : ctx.moveTo(x, y)));
    for (let i = lo.length - 1; i >= 0; i--) ctx.lineTo(lo[i][0], lo[i][1]);
    ctx.closePath();
    ctx.fillStyle = stripePattern(ctx, ds.borderColor) || ds.borderColor;
    ctx.fill();
    ctx.strokeStyle = ds.borderColor;
    ctx.lineWidth = 1.5;
    [up, lo].forEach((edge) => {
      ctx.beginPath();
      edge.forEach(([x, y], i) => (i ? ctx.lineTo(x, y) : ctx.moveTo(x, y)));
      ctx.stroke();
    });
    ctx.restore();
  },
};

function makeDecorPlugin(cfg: PanelCfg, ox: number, oy: number) {
  return {
    id: 'decor',
    afterDraw(chart: any) {
      const { ctx, chartArea: a } = chart;
      ctx.save();
      ctx.fillStyle = '#000';
      ctx.textBaseline = 'middle';
      ctx.textAlign = 'center';
      ctx.font = `bold 19px ${FONT}`;
      ctx.fillText(cfg.letter, cfg.letterPos[0] - ox, cfg.letterPos[1] - oy);
      ctx.font = `30px ${FONT}`;
      ctx.fillText(cfg.title, cfg.titlePos[0] - ox, cfg.titlePos[1] - oy);

      // y-axis title with subscript
      ctx.save();
      ctx.translate(a.left - 41, (a.top + a.bottom) / 2);
      ctx.rotate(-Math.PI / 2);
      ctx.textAlign = 'left';
      ctx.textBaseline = 'alphabetic';
      ctx.font = `bold 20px ${FONT}`;
      const w1 = ctx.measureText(Y_TITLE).width;
      ctx.font = `bold 12px ${FONT}`;
      const w2 = ctx.measureText(Y_TITLE_SUB).width;
      const sx = -(w1 + w2) / 2;
      ctx.font = `bold 20px ${FONT}`;
      ctx.fillText(Y_TITLE, sx, 0);
      ctx.font = `bold 12px ${FONT}`;
      ctx.fillText(Y_TITLE_SUB, sx + w1, 4);
      ctx.restore();

      // legend
      ctx.font = `16.5px ${FONT}`;
      ctx.textAlign = 'left';
      ctx.textBaseline = 'middle';
      cfg.series.forEach((s, i) => {
        const ys = cfg.rows[i];
        const lines = s.name.split('\n');
        const cy = (ys[0] + ys[ys.length - 1]) / 2 - oy;
        ctx.fillStyle = s.color;
        ctx.beginPath();
        ctx.arc(cfg.dotX - ox, cy, 2.6, 0, Math.PI * 2);
        ctx.fill();
        ctx.fillStyle = '#1a1a1a';
        lines.forEach((t, j) => ctx.fillText(t, cfg.textX - ox, ys[Math.min(j, ys.length - 1)] - oy));
      });
      ctx.restore();
    },
  };
}

function Panel({ cfg }: { cfg: PanelCfg }) {
  const ref = useRef<HTMLCanvasElement>(null);
  const { area } = cfg;
  const left = area.left - PAD_L;
  const top = area.top - PAD_T;
  const width = area.right - area.left + PAD_L + PAD_R;
  const height = area.bottom - area.top + PAD_T + X_AXIS_H + PAD_B;

  useEffect(() => {
    const chart = new Chart(ref.current!, {
      type: 'line',
      data: {
        datasets: cfg.series.map((s) => ({
          label: s.name.replace('\n', ' '),
          data: s.mean.map((v, k) => ({ x: k / SAMPLES_PER_TICK, y: v })),
          sd: s.sd,
          borderColor: s.color,
          backgroundColor: s.color,
          borderWidth: 3.5,
          pointRadius: 0,
          tension: 0.3,
          fill: false,
        })) as any,
      },
      options: {
        animation: false,
        responsive: false,
        devicePixelRatio: 1,
        layout: { padding: { left: 0, top: PAD_T, right: PAD_R, bottom: PAD_B } },
        plugins: { legend: { display: false }, title: { display: false }, tooltip: { enabled: false } },
        events: [],
        scales: {
          x: {
            type: 'linear',
            min: -0.2,
            max: TIME_LABELS.length - 1,
            afterBuildTicks: (s: any) => { s.ticks = TIME_LABELS.map((_, i) => ({ value: i })); },
            afterFit: (s: any) => { s.height = X_AXIS_H; },
            ticks: {
              autoSkip: false, minRotation: 45, maxRotation: 45, padding: 1,
              font: { size: 14.5, weight: 'bold' }, color: '#000',
              callback: (_v: any, i: number) => TIME_LABELS[i],
            },
            grid: { drawOnChartArea: false, drawTicks: true, tickLength: 7, color: '#000', lineWidth: 2, tickWidth: 2 },
            border: { display: true, color: '#000', width: 2 },
            title: { display: true, text: X_TITLE, font: { size: 16.5, weight: 'bold' }, color: '#000', padding: { top: 0, bottom: 15 } },
          },
          y: {
            type: 'linear',
            min: 0,
            max: 1,
            afterFit: (s: any) => { s.width = PAD_L; },
            ticks: { stepSize: 0.2, padding: 4, font: { size: 14.5, weight: 'bold' }, color: '#000', callback: (v: any) => Number(v).toFixed(1) },
            grid: { drawOnChartArea: false, drawTicks: true, tickLength: 7, color: '#000', lineWidth: 2, tickWidth: 2 },
            border: { display: true, color: '#000', width: 2 },
          },
        },
      } as any,
      plugins: [errorBandPlugin, makeDecorPlugin(cfg, left, top)],
    });
    return () => chart.destroy();
  }, []);

  return (
    <canvas
      ref={ref}
      width={width}
      height={height}
      style={{ position: 'absolute', left, top, width, height }}
    />
  );
}

export default function App() {
  return (
    <div style={{ position: 'absolute', left: 0, top: 0, width: 1358, height: 1288, overflow: 'hidden', background: '#fff' }}>
      <style>{'html,body{overflow:hidden;margin:0;}'}</style>
      <div style={{ position: 'absolute', left: 8, top: 8, width: 1349, height: 1300, border: '1px solid #b5b5b5', boxSizing: 'border-box' }} />
      {PANELS.map((p) => <Panel key={p.letter} cfg={p} />)}
      <div style={{ position: 'absolute', left: 25, top: 1212, fontFamily: FONT, fontSize: 18.1, lineHeight: '26px', color: '#333', whiteSpace: 'nowrap' }}>
        <div><b>FIGURE 5 |</b> <i>Bacteroides ovatus</i> uses select substrates to support its growth. <i>B. ovatus</i> ATCC 8384 was grown anaerobically at 37°C in Biolog plates with a</div>
        <div>chemically-defined minimal media (CDMM) preparation that lacked glucose. Growth was monitored over 24 h by plate reader in plates containing <b>(A)</b> phosphates,</div>
        <div><b>(B)</b> vitamins, <b>(C)</b> diols and tweens, and <b>(D,E)</b> other compounds. All data are presented as mean ± stdev.</div>
      </div>
    </div>
  );
}
